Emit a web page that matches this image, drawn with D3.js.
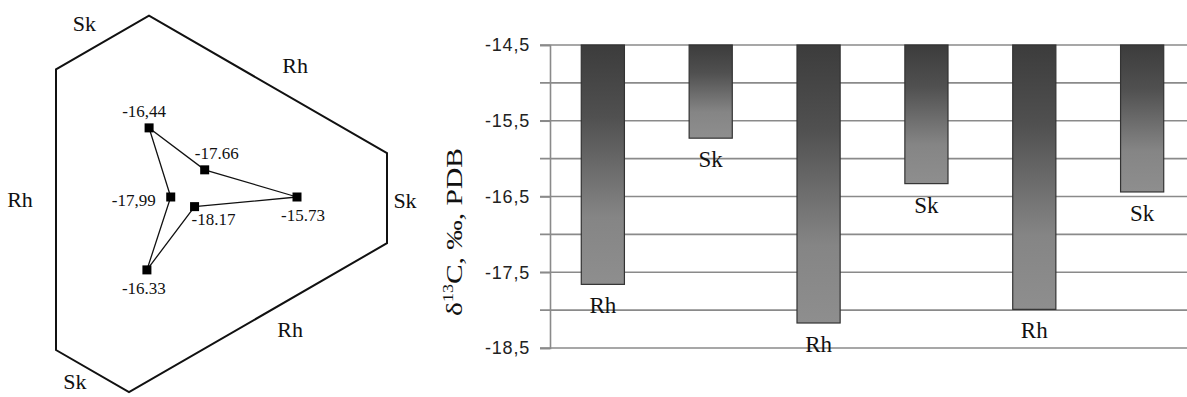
<!DOCTYPE html>
<html>
<head>
<meta charset="utf-8">
<script src="https://cdn.jsdelivr.net/npm/d3@7"></script>
<style>
  body { margin: 0; background: #fff; }
  svg { display: block; }
</style>
</head>
<body>
<div id="chart"></div>
<script>
// radar (left panel): axes in drawing order, starting at the right and going counter-clockwise
var radarAxes   = ['Sk', 'Rh', 'Sk', 'Rh', 'Sk', 'Rh'];
var radarValues = [-15.73, -17.66, -16.44, -17.99, -16.33, -18.17];
var radarLabels = ['-15.73', '-17.66', '-16,44', '-17,99', '-16.33', '-18.17'];

// bar chart (right panel)
var barCats   = ['Rh', 'Sk', 'Rh', 'Sk', 'Rh', 'Sk'];
var barValues = [-17.66, -15.73, -18.17, -16.33, -17.99, -16.44];
var yTicks    = [-14.5, -15.5, -16.5, -17.5, -18.5];

var W = 1187, H = 397;
var svg = d3.select('#chart').append('svg').attr('width', W).attr('height', H);
var serif = '"Liberation Serif", "Times New Roman", serif';
var sans = '"Liberation Sans", Arial, sans-serif';

// ---------- left panel: hexagonal radar ----------
var cx = 189, cy = 197;
var r = d3.scaleLinear().domain([-18.45, -15.73]).range([0, 108]);
var angle = function(i){ return i * Math.PI / 3; };   // 0 = right, counter-clockwise
function pt(i, d){ return [cx + d * Math.cos(angle(i)), cy - d * Math.sin(angle(i))]; }

// frame: each edge is perpendicular to an axis, at its own distance from the centre
var edgeDist = [198, 137, 177, 133, 199, 139];
var hexPts = d3.range(6).map(function(i){
    // intersection of edge i and edge i+1
    var a1 = angle(i), a2 = angle((i + 1) % 6), d1 = edgeDist[i], d2 = edgeDist[(i + 1) % 6];
    var n1 = [Math.cos(a1), -Math.sin(a1)], n2 = [Math.cos(a2), -Math.sin(a2)];
    var det = n1[0] * n2[1] - n1[1] * n2[0];
    return [cx + (d1 * n2[1] - d2 * n1[1]) / det, cy + (n1[0] * d2 - n2[0] * d1) / det];
});
svg.append('path')
    .attr('d', d3.line()(hexPts) + 'Z')
    .attr('fill', 'none').attr('stroke', '#111').attr('stroke-width', 2);

// axis labels outside the frame: [outward, along-edge] offset from each edge's midpoint
var labelOff = [[18, 2], [30, 14], [26, -6], [36, 10], [18, 10], [26, -22]];
svg.selectAll('.axlab').data(radarAxes).enter().append('text')
    .attr('class', 'axlab')
    .attr('transform', function(d, i){
        var p = hexPts[(i + 5) % 6], q = hexPts[i];
        var mx = (p[0] + q[0]) / 2, my = (p[1] + q[1]) / 2;
        var len = Math.hypot(q[0] - p[0], q[1] - p[1]);
        var tx = (p[0] - q[0]) / len, ty = (p[1] - q[1]) / len;
        var o = labelOff[i];
        return 'translate(' + (mx + o[0] * Math.cos(angle(i)) + o[1] * tx) + ',' +
               (my - o[0] * Math.sin(angle(i)) + o[1] * ty) + ')';
    })
    .attr('text-anchor', 'middle').attr('dy', '0.35em')
    .attr('font-family', serif).attr('font-size', 22).attr('fill', '#111')
    .text(function(d){ return d; });

var dataPts = radarValues.map(function(v, i){ return pt(i, r(v)); });
svg.append('path')
    .attr('d', d3.line()(dataPts) + 'Z')
    .attr('fill', 'none').attr('stroke', '#111').attr('stroke-width', 1.3);

svg.selectAll('.mk').data(dataPts).enter().append('rect')
    .attr('class', 'mk')
    .attr('x', function(d){ return d[0] - 4.5; }).attr('y', function(d){ return d[1] - 4.5; })
    .attr('width', 9).attr('height', 9).attr('fill', '#000');

// value label offsets relative to each marker
var valOff = [[6, 18], [12, -17], [-5, -17], [-37, 3], [-3, 18], [19, 12]];
svg.selectAll('.vl').data(radarLabels).enter().append('text')
    .attr('class', 'vl')
    .attr('x', function(d, i){ return dataPts[i][0] + valOff[i][0]; })
    .attr('y', function(d, i){ return dataPts[i][1] + valOff[i][1]; })
    .attr('text-anchor', 'middle').attr('dy', '0.35em')
    .attr('font-family', serif).attr('font-size', 17).attr('fill', '#111')
    .text(function(d){ return d; });

// ---------- right panel: hanging bars ----------
var m = {l: 550, t: 45, b: 348};
var y = d3.scaleLinear().domain([-14.5, -18.5]).range([m.t, m.b]);
var x = d3.scaleBand().domain(d3.range(barValues.length)).range([m.l, 1195])
    .paddingInner(0.6).paddingOuter(0.29);

var grad = svg.append('defs').append('linearGradient')
    .attr('id', 'barGrad').attr('x1', 0).attr('y1', 0).attr('x2', 0).attr('y2', 1);
grad.append('stop').attr('offset', '0%').attr('stop-color', '#3c3c3c');
grad.append('stop').attr('offset', '30%').attr('stop-color', '#505050');
grad.append('stop').attr('offset', '72%').attr('stop-color', '#858585');
grad.append('stop').attr('offset', '100%').attr('stop-color', '#8e8e8e');

// gridlines every 0.5
var grid = d3.range(-14.5, -18.51, -0.5);
svg.append('g').selectAll('line').data(grid).enter().append('line')
    .attr('x1', m.l - 10).attr('x2', W)
    .attr('y1', function(d){ return y(d); }).attr('y2', function(d){ return y(d); })
    .attr('stroke', '#8a8a8a').attr('stroke-width', 1.6);

var yAxis = svg.append('g').attr('transform', 'translate(' + m.l + ',0)')
    .call(d3.axisLeft(y).tickValues(yTicks).tickSize(10).tickPadding(10)
        .tickFormat(function(d){ return d3.format('.1f')(d).replace('.', ',').replace('−', '-'); }));
yAxis.select('.domain').attr('stroke', '#8a8a8a').attr('stroke-width', 1.6);
yAxis.selectAll('.tick line').attr('stroke', '#8a8a8a').attr('stroke-width', 1.6);
yAxis.selectAll('.tick text').attr('font-family', sans).attr('font-size', 18)
    .attr('letter-spacing', 0.8).attr('fill', '#222');

svg.selectAll('.bar').data(barValues).enter().append('rect')
    .attr('class', 'bar')
    .attr('x', function(d, i){ return x(i); })
    .attr('y', y(-14.5))
    .attr('width', x.bandwidth())
    .attr('height', function(d){ return y(d) - y(-14.5); })
    .attr('fill', 'url(#barGrad)').attr('stroke', '#333').attr('stroke-width', 1.2);

svg.selectAll('.blab').data(barCats).enter().append('text')
    .attr('class', 'blab')
    .attr('x', function(d, i){ return x(i) + x.bandwidth() / 2; })
    .attr('y', function(d, i){ return y(barValues[i]) + 21; })
    .attr('text-anchor', 'middle').attr('dy', '0.35em')
    .attr('font-family', serif).attr('font-size', 23).attr('fill', '#111')
    .text(function(d){ return d; });

var yl = svg.append('text')
    .attr('transform', 'translate(462,232) rotate(-90)')
    .attr('text-anchor', 'middle')
    .attr('textLength', 168).attr('lengthAdjust', 'spacingAndGlyphs')
    .attr('font-family', serif).attr('font-size', 23).attr('fill', '#111');
yl.append('tspan').text('δ');
yl.append('tspan').attr('font-size', 14).attr('dy', -9).text('13');
yl.append('tspan').attr('dy', 9).text('C, ‰, PDB');
</script>
</body>
</html>
